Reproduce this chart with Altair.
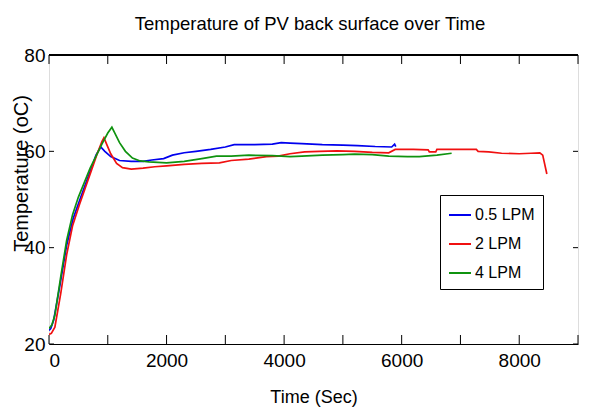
import altair as alt
import pandas as pd

# ---- data ----
t_05 = [0, 30, 80, 190, 300, 410, 520, 600, 700, 800, 880, 950, 1050, 1200, 1400, 1600,
        1750, 1950, 2100, 2300, 2500, 2750, 3000, 3150, 3500, 3800, 3950, 4100, 4300,
        4650, 5000, 5250, 5550, 5830, 5880, 5900]
T_05 = [22.8, 23.2, 25.0, 32.5, 40.5, 46.0, 49.8, 52.5, 55.8, 59.2, 60.9, 60.0, 58.9, 58.1,
        57.9, 57.9, 58.2, 58.5, 59.2, 59.7, 60.0, 60.4, 60.9, 61.4, 61.4, 61.5, 61.8, 61.7,
        61.6, 61.4, 61.3, 61.2, 61.0, 60.9, 61.5, 61.0]

t_2 = [0, 40, 100, 200, 300, 400, 520, 620, 720, 820, 900, 935, 980, 1050, 1150, 1250,
       1400, 1600, 1800, 2000, 2300, 2600, 2900, 3100, 3400, 3700, 3900, 4100, 4350, 4600,
       4900, 5200, 5500, 5780, 5890, 6200, 6450, 6470, 6580, 6600, 7270, 7300, 7480, 7700,
       8000, 8200, 8350, 8400, 8470]
T_2 = [22.0, 22.2, 23.5, 30.5, 38.5, 44.5, 49.0, 52.5, 56.0, 59.5, 62.0, 62.8, 61.5, 59.5,
       57.5, 56.6, 56.3, 56.5, 56.8, 57.0, 57.3, 57.5, 57.6, 58.1, 58.4, 58.9, 59.0, 59.5,
       59.9, 60.0, 60.1, 60.0, 59.8, 59.7, 60.4, 60.4, 60.3, 59.9, 59.9, 60.4, 60.4, 60.0,
       59.9, 59.6, 59.5, 59.6, 59.7, 59.2, 55.3]

t_4 = [0, 50, 100, 200, 300, 400, 500, 600, 700, 800, 900, 1000, 1070, 1120, 1200, 1300,
       1420, 1550, 1700, 2000, 2300, 2600, 2850, 3100, 3400, 3800, 4100, 4300, 4650, 5000,
       5200, 5500, 5780, 6100, 6300, 6600, 6850]
T_4 = [23.2, 24.0, 26.0, 34.0, 41.5, 46.8, 50.5, 53.5, 56.5, 59.0, 61.5, 63.8, 65.0, 63.8,
       61.8, 60.0, 58.6, 58.0, 57.8, 57.6, 57.9, 58.5, 59.0, 59.0, 59.2, 59.1, 58.9, 59.0,
       59.2, 59.3, 59.4, 59.3, 59.0, 58.9, 58.9, 59.2, 59.6]

series_names = ["0.5 LPM", "2 LPM", "4 LPM"]
series_colors = ["#0000ee", "#f01010", "#0f930f"]
x_ticks = [0, 1000, 2000, 3000, 4000, 5000, 6000, 7000, 8000, 9000]
y_ticks = [20, 40, 60, 80]
title_text = ["Temperature of PV back surface over Time"]

rows = []
for name, ts, vs in zip(series_names, [t_05, t_2, t_4], [T_05, T_2, T_4]):
    for i, (t, v) in enumerate(zip(ts, vs)):
        rows.append({"series": name, "time": t, "temp": v, "order": i})
df = pd.DataFrame(rows)
xt = pd.DataFrame({"t": x_ticks})
yt = pd.DataFrame({"v": y_ticks})
tt = pd.DataFrame({"title": title_text})

W, H = 529, 289
FONT = "Liberation Sans, Arial, sans-serif"

xscale = alt.Scale(domain=[0, 9000], nice=False)
yscale = alt.Scale(domain=[20, 80], nice=False)

lines = alt.Chart(df).mark_line(strokeWidth=1.7, clip=True).encode(
    x=alt.X("time:Q", scale=xscale,
            axis=alt.Axis(values=x_ticks, format="d", title="Time (Sec)", grid=False,
                          ticks=False, tickSize=0, domainColor="black", labelPadding=7,
                          labelFont=FONT, labelFontSize=19, labelColor="black",
                          titleFont=FONT, titleFontSize=18, titleFontWeight="normal",
                          titleColor="black", titleBaseline="alphabetic", titleY=58)),
    y=alt.Y("temp:Q", scale=yscale,
            axis=alt.Axis(values=y_ticks, format="d", title="Temperature (oC)", grid=False,
                          ticks=False, tickSize=0, domain=False, labelPadding=4,
                          labelFont=FONT, labelFontSize=19, labelColor="black",
                          titleFont=FONT, titleFontSize=20, titleFontWeight="normal",
                          titleColor="black", titleAngle=270, titleAlign="center",
                          titleBaseline="alphabetic", titleX=-22, titleY=118)),
    color=alt.Color("series:N",
                    scale=alt.Scale(domain=series_names, range=series_colors),
                    legend=alt.Legend(title=None, orient="none", legendX=391, legendY=140,
                                      symbolType="stroke", symbolSize=484,
                                      symbolStrokeWidth=2, labelFont=FONT,
                                      labelFontSize=16, labelColor="black", labelOffset=3,
                                      rowPadding=9, padding=8, strokeColor="black",
                                      fillColor="white", labelLimit=200)),
    order="order:Q",
)

bottom_ticks = alt.Chart(xt).mark_rule(color="black", strokeWidth=1).encode(
    x=alt.X("t:Q", scale=xscale), y=alt.value(H), y2=alt.value(H - 9))
top_ticks = alt.Chart(xt).mark_rule(color="black", strokeWidth=1).encode(
    x=alt.X("t:Q", scale=xscale), y=alt.value(0), y2=alt.value(9))
left_ticks = alt.Chart(yt).mark_rule(color="black", strokeWidth=1).encode(
    y=alt.Y("v:Q", scale=yscale), x=alt.value(0), x2=alt.value(5))
right_ticks = alt.Chart(yt).mark_rule(color="black", strokeWidth=1).encode(
    y=alt.Y("v:Q", scale=yscale), x=alt.value(W), x2=alt.value(W - 5))
top_line = alt.Chart(xt).mark_rule(color="black", strokeWidth=1).encode(
    x=alt.value(0), x2=alt.value(W), y=alt.value(0))
title_mark = alt.Chart(tt).mark_text(font=FONT, fontSize=18.5, color="black", align="center",
                                     baseline="alphabetic").encode(
    text="title:N", x=alt.value(261), y=alt.value(-25))

chart = alt.layer(bottom_ticks, top_ticks, left_ticks, right_ticks, top_line, title_mark,
                  lines).properties(
    width=W, height=H,
    autosize=alt.AutoSizeParams(type="none"),
    padding={"left": 41, "top": 47, "right": 13, "bottom": 70},
).configure_view(stroke="#999999", strokeWidth=1).configure(background="white")

chart.save("out.html", embed_options={"renderer": "svg", "actions": False})
